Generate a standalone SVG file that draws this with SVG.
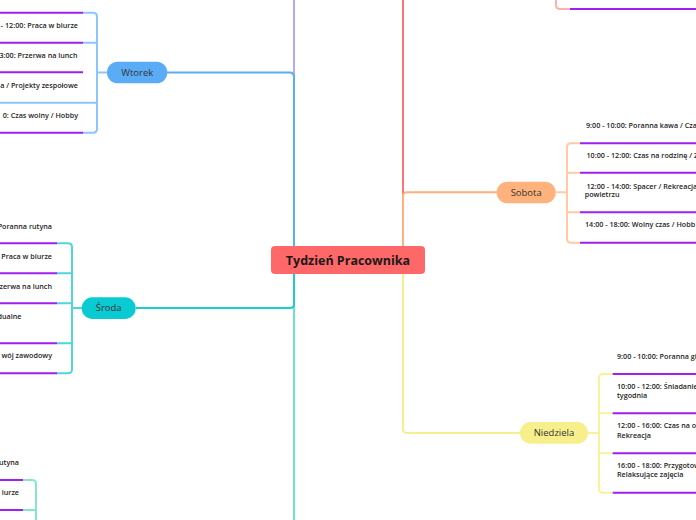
<svg xmlns="http://www.w3.org/2000/svg" width="696" height="520" viewBox="0 0 696 520">
<style>
.c{fill:none;stroke-width:2;stroke-linecap:butt}
.u{fill:none;stroke:#a020f0;stroke-width:2}
.st{font-family:"Open Sans","Noto Sans",sans-serif;font-size:7.2px;font-weight:600;fill:#1e1e1e}
.nt{font-family:"Open Sans","Noto Sans",sans-serif;font-size:9.5px;fill:#333;text-anchor:middle}
</style>
<rect width="696" height="520" fill="#ffffff"/>
<g id="connectors">
  <path class="c" stroke="#b3a9ff" d="M294,246 V0"/>
  <path class="c" stroke="#5aacf6" d="M294,246 V77 Q294,72.5 289.5,72.5 H167"/>
  <path class="c" stroke="#6fe0c0" d="M294,274 V520"/>
  <path class="c" stroke="#1ccdd0" d="M294,274 V304 Q294,308 290,308 H136"/>
  <path class="c" stroke="#ff7575" d="M403,246 V0"/>
  <path class="c" stroke="#ffb07c" d="M403,246 V196.5 Q403,192.3 407,192.3 H497"/>
  <path class="c" stroke="#f6ef90" d="M403,274 V429 Q403,433 407,433 H520"/>
  <path class="c" stroke="#8ac6f8" stroke-width="1.5" d="M107,72.5 H97 M83,12.7 H93 Q97,12.7 97,16.7 V128.7 Q97,132.7 93,132.7 H83 M83,42.7 H97 M0,102.7 H97"/>
  <path class="c" stroke="#4fd6dc" stroke-width="1.5" d="M82,308 H72 M57,243.3 H68 Q72,243.3 72,247.3 V369.3 Q72,373.3 68,373.3 H57 M57,273.3 H72 M57,303.3 H72 M57,343.3 H72"/>
  <path class="c" stroke="#86e6c8" stroke-width="1.5" d="M23,480 H32 Q36,480 36,484 V520 M23,510 H36"/>
  <path class="c" stroke="#ffb0a8" stroke-width="1.5" d="M556,0 V5 Q556,9 560,9 H570"/>
  <path class="c" stroke="#ffcaa4" stroke-width="1.5" d="M556,192.3 H567 M580,143.3 H571 Q567,143.3 567,147.3 V238.7 Q567,242.7 571,242.7 H580 M567,172.7 H580 M567,212.3 H580"/>
  <path class="c" stroke="#f8f29c" stroke-width="1.5" d="M588,433 H599 M612.7,374 H603 Q599,374 599,378 V488.7 Q599,492.7 603,492.7 H612.7 M599,413.3 H612.7 M599,453.3 H612.7"/>
</g>
<g id="underlines">
  <path class="u" d="M0,12.7 H83 M0,42.7 H83 M0,72.3 H83 M0,132.7 H83"/>
  <path class="u" d="M0,243.3 H57 M0,273.3 H57 M0,303.3 H57 M0,343.3 H57 M0,373.3 H57"/>
  <path class="u" d="M0,480 H23 M0,510 H23"/>
  <path class="u" d="M570,9 H696"/>
  <path class="u" d="M580,143.3 H696 M580,172.7 H696 M580,212.3 H696 M580,242.7 H696"/>
  <path class="u" d="M612.7,374 H696 M612.7,413.3 H696 M612.7,453.3 H696 M612.7,492.7 H696"/>
</g>
<g id="center">
  <rect x="271" y="246" width="154" height="28" rx="4" fill="#ff6868"/>
  <text x="348" y="264.5" text-anchor="middle" font-family="'Open Sans','Noto Sans',sans-serif" font-size="12.5" font-weight="700" fill="#1a1a1a">Tydzień Pracownika</text>
</g>
<g id="wtorek">
  <rect x="107" y="61.7" width="60.3" height="21.6" rx="10.8" fill="#5aacf6"/>
  <text class="nt" x="137.2" y="75.8">Wtorek</text>
</g>
<g id="wtorek-items">
  <text class="st" x="78" y="28" text-anchor="end">- 12:00: Praca w biurze</text>
  <text class="st" x="77.5" y="58" text-anchor="end">3:00: Przerwa na lunch</text>
  <text class="st" x="78" y="88" text-anchor="end">a / Projekty zespołowe</text>
  <text class="st" x="78" y="118" text-anchor="end">0: Czas wolny / Hobby</text>
</g>
<g id="sroda">
  <rect x="81.7" y="297.3" width="54" height="21.7" rx="10.8" fill="#0acad2"/>
  <text class="nt" x="108.7" y="311.4">Środa</text>
</g>
<g id="sroda-items">
  <text class="st" x="52" y="229" text-anchor="end">Poranna rutyna</text>
  <text class="st" x="52" y="259" text-anchor="end">Praca w biurze</text>
  <text class="st" x="52" y="289" text-anchor="end">zerwa na lunch</text>
  <text class="st" x="21.5" y="319" text-anchor="end">dualne</text>
  <text class="st" x="52" y="358" text-anchor="end">wój zawodowy</text>
</g>
<g id="czwartek-items">
  <text class="st" x="19" y="465" text-anchor="end">utyna</text>
  <text class="st" x="19" y="495" text-anchor="end">iurze</text>
</g>
<g id="sobota">
  <rect x="496.7" y="181.7" width="59" height="21.6" rx="10.8" fill="#ffb27c"/>
  <text class="nt" x="526.2" y="195.8">Sobota</text>
</g>
<g id="sobota-items">
  <text class="st" x="586" y="127.5">9:00 - 10:00: Poranna kawa / Cza</text>
  <text class="st" x="586.5" y="158">10:00 - 12:00: Czas na rodzinę / Z</text>
  <text class="st" x="586.5" y="188.5">12:00 - 14:00: Spacer / Rekreacja</text>
  <text class="st" x="584.7" y="197">powietrzu</text>
  <text class="st" x="585" y="227">14:00 - 18:00: Wolny czas / Hobb</text>
</g>
<g id="niedziela">
  <rect x="520" y="422" width="68" height="21.7" rx="10.8" fill="#f6ef8c"/>
  <text class="nt" x="554" y="436.2">Niedziela</text>
</g>
<g id="niedziela-items">
  <text class="st" x="617" y="359">9:00 - 10:00: Poranna gi</text>
  <text class="st" x="617" y="389">10:00 - 12:00: Śniadanie</text>
  <text class="st" x="617" y="398">tygodnia</text>
  <text class="st" x="617" y="428">12:00 - 16:00: Czas na o</text>
  <text class="st" x="617" y="438">Rekreacja</text>
  <text class="st" x="617" y="468">16:00 - 18:00: Przygotow</text>
  <text class="st" x="617" y="477">Relaksujące zajęcia</text>
</g>
</svg>
